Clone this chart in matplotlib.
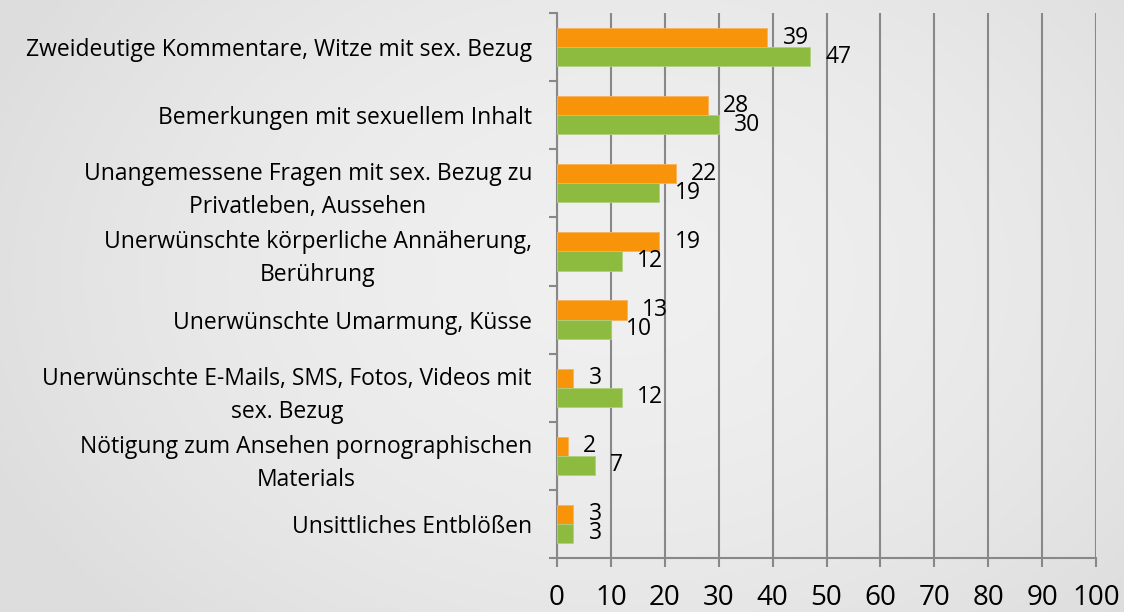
import numpy as np
import matplotlib
matplotlib.use("Agg")
import matplotlib.pyplot as plt

categories = [
    "Zweideutige Kommentare, Witze mit sex. Bezug",
    "Bemerkungen mit sexuellem Inhalt",
    "Unangemessene Fragen mit sex. Bezug zu\nPrivatleben, Aussehen",
    "Unerwünschte körperliche Annäherung,\nBerührung",
    "Unerwünschte Umarmung, Küsse",
    "Unerwünschte E-Mails, SMS, Fotos, Videos mit\nsex. Bezug",
    "Nötigung zum Ansehen pornographischen\nMaterials",
    "Unsittliches Entblößen",
]
orange_values = [39, 28, 22, 19, 13, 3, 2, 3]
green_values = [47, 30, 19, 12, 10, 12, 7, 3]
x_ticks = [0, 10, 20, 30, 40, 50, 60, 70, 80, 90, 100]

plt.rcParams['font.family'] = ['Open Sans', 'DejaVu Sans']

W, H = 1124, 612
fig = plt.figure(figsize=(W / 100, H / 100), dpi=100)

# radial gradient background
bg = fig.add_axes([0, 0, 1, 1], zorder=-10)
yy, xx = np.mgrid[0:H, 0:W]
cx, cy = W * 0.55, H * 0.45
r = np.sqrt(((xx - cx) / (W * 0.6)) ** 2 + ((yy - cy) / (H * 0.8)) ** 2)
r = np.clip(r, 0, 1)
c_center, c_edge = 0.94, 0.87
img = c_center + (c_edge - c_center) * r ** 1.8
bg.imshow(np.dstack([img, img, img]), aspect='auto', extent=[0, 1, 0, 1])
bg.axis('off')

ax = fig.add_axes([557 / W, 1 - 558 / H, (1096 - 557) / W, (558 - 13) / H])
ax.patch.set_alpha(0)

n = len(categories)
y = np.arange(n)
h = 0.28
orange = '#F7940A'
green = '#8CBB40'
b1 = ax.barh(y - h / 2, orange_values, height=h, color=orange, edgecolor='#F9B060', linewidth=0.6, zorder=3)
b2 = ax.barh(y + h / 2, green_values, height=h, color=green, edgecolor='#B0D080', linewidth=0.6, zorder=3)

for bars, vals in ((b1, orange_values), (b2, green_values)):
    for rect, v in zip(bars, vals):
        ax.annotate(str(v), (rect.get_width(), rect.get_y() + rect.get_height() / 2),
                    xytext=(11, 0), textcoords='offset points', ha='left', va='center',
                    fontsize=16.5, color='black', zorder=5)

ax.set_xlim(0, 100)
ax.set_ylim(n - 0.5, -0.5)
ax.set_xticks(x_ticks)
ax.set_xticklabels([str(t) for t in x_ticks], fontsize=20)
ax.xaxis.grid(True, color='#888888', linewidth=1.5, zorder=0)
ax.set_axisbelow(True)

ax.set_yticks(y)
ax.set_yticklabels(categories, fontsize=16.5, multialignment='center', linespacing=1.5)
ax.set_yticks(np.arange(n + 1) - 0.5, minor=True)
ax.tick_params(axis='y', which='major', length=0, pad=18)
ax.tick_params(axis='y', which='minor', length=6, width=1.5, color='#888888')
ax.tick_params(axis='x', length=6.5, width=1.5, color='#888888', pad=12)

for s in ('top', 'right'):
    ax.spines[s].set_visible(False)
for s in ('left', 'bottom'):
    ax.spines[s].set_color('#888888')
    ax.spines[s].set_linewidth(1.5)

fig.savefig('out.png', dpi=100)
